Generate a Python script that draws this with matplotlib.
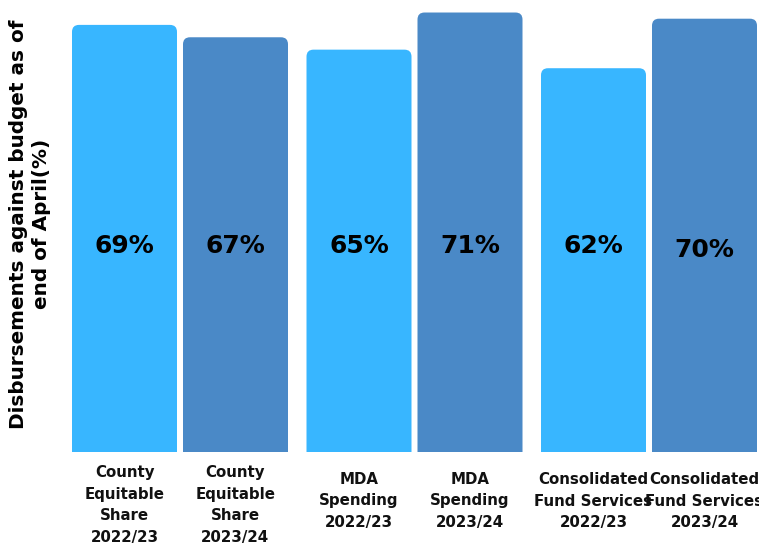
import matplotlib
matplotlib.use("Agg")
import matplotlib.pyplot as plt
from matplotlib.patches import FancyBboxPatch

categories = ["County\nEquitable\nShare\n2022/23", "County\nEquitable\nShare\n2023/24",
              "MDA\nSpending\n2022/23", "MDA\nSpending\n2023/24",
              "Consolidated\nFund Services\n2022/23", "Consolidated\nFund Services\n2023/24"]
values = [69, 67, 65, 71, 62, 70]
labels = ["69%", "67%", "65%", "71%", "62%", "70%"]

light = "#38B6FF"
dark = "#4A89C7"

W, H = 759, 549
fig = plt.figure(figsize=(W / 100, H / 100), dpi=100)
base = 97  # pixels from bottom of figure to the bar baseline
ax = fig.add_axes([0, base / H, 1, (H - base) / H])
px_per_pct = 6.19
ax.set_xlim(0, W)
ax.set_ylim(0, (H - base) / px_per_pct)
ax.axis("off")

bar_w = 105
for i, (v, lab) in enumerate(zip(values, labels)):
    g, s = divmod(i, 2)
    cx = 124.5 + 234.5 * g + 111 * s
    col = light if s == 0 else dark
    p = FancyBboxPatch((cx - bar_w / 2, -5), bar_w, v + 5,
                       boxstyle="round,pad=0,rounding_size=7",
                       mutation_aspect=1 / px_per_pct,
                       fc=col, ec="none")
    ax.add_patch(p)
    ty = 32.6 if i == 5 else 33.3
    ax.text(cx, ty, lab, ha="center", va="center", fontsize=18,
            fontweight="bold", color="black")
    nlines = categories[i].count("\n") + 1
    fig.text(cx / W, 1 - (505 if nlines == 4 else 501) / H, categories[i],
             ha="center", va="center", fontsize=10.8, fontweight="bold",
             linespacing=1.58, color="#111111")

fig.text(30 / W, 1 - 224 / H, "Disbursements against budget as of\nend of April(%)",
         rotation=90, ha="center", va="center", fontsize=14.4,
         fontweight="bold", linespacing=1.3, color="black")

fig.savefig("out.png", dpi=100, facecolor="white")
